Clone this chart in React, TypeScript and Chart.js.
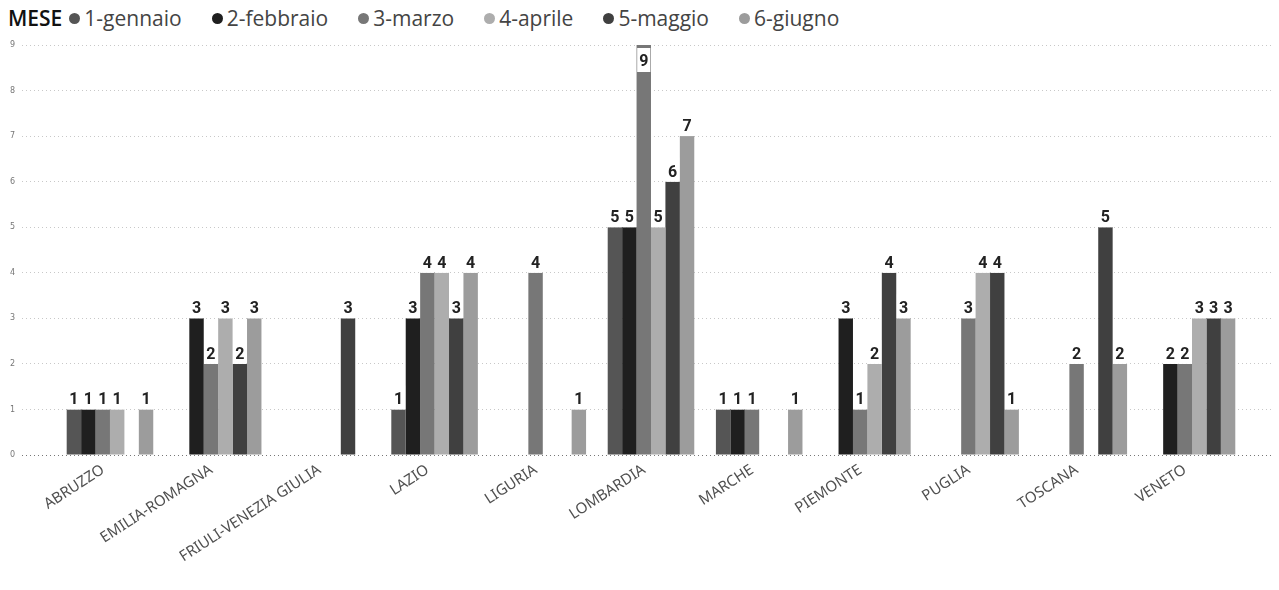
import React, { useEffect, useRef } from "react";
import { Chart, registerables } from "chart.js";

Chart.register(...registerables);

const CATEGORIES = [
  "ABRUZZO",
  "EMILIA-ROMAGNA",
  "FRIULI-VENEZIA GIULIA",
  "LAZIO",
  "LIGURIA",
  "LOMBARDIA",
  "MARCHE",
  "PIEMONTE",
  "PUGLIA",
  "TOSCANA",
  "VENETO",
];

const SERIES_NAMES = ["1-gennaio", "2-febbraio", "3-marzo", "4-aprile", "5-maggio", "6-giugno"];

const GENNAIO = [1, null, null, 1, null, 5, 1, null, null, null, null];
const FEBBRAIO = [1, 3, null, 3, null, 5, 1, 3, null, null, 2];
const MARZO = [1, 2, null, 4, 4, 9, 1, 1, 3, 2, 2];
const APRILE = [1, 3, null, 4, null, 5, null, 2, 4, null, 3];
const MAGGIO = [null, 2, 3, 3, null, 6, null, 4, 4, 5, 3];
const GIUGNO = [1, 3, null, 4, 1, 7, 1, 3, 1, 2, 3];

const Y_TICKS = [0, 1, 2, 3, 4, 5, 6, 7, 8, 9];

const SERIES_VALUES = [GENNAIO, FEBBRAIO, MARZO, APRILE, MAGGIO, GIUGNO];
const COLORS = ["#555555", "#1f1f1f", "#777777", "#adadad", "#404040", "#9c9c9c"];

const labelPlugin = {
  id: "barLabels",
  afterDatasetsDraw(chart: any) {
    const ctx = chart.ctx;
    const area = chart.chartArea;
    ctx.save();
    ctx.font = "bold 16px Roboto, 'DejaVu Sans Condensed', sans-serif";
    const items: any[] = [];
    chart.data.datasets.forEach((ds: any, di: number) => {
      const meta = chart.getDatasetMeta(di);
      meta.data.forEach((el: any, i: number) => {
        const raw = ds.data[i];
        const v = raw && raw.y;
        if (v === null || v === undefined) return;
        const text = String(v);
        const w = ctx.measureText(text).width;
        const boxW = w + 4;
        const boxH = 24;
        let boxTop = el.y - boxH;
        let baseline = el.y - 5;
        if (boxTop < area.top - 6) {
          boxTop = el.y + 3;
          baseline = el.y + 21;
        }
        items.push({ x: el.x, text, boxW, boxH, boxTop, baseline });
      });
    });
    ctx.fillStyle = "#ffffff";
    items.forEach((it) => {
      ctx.fillRect(it.x - it.boxW / 2, it.boxTop, it.boxW, it.boxH);
    });
    ctx.fillStyle = "#222222";
    ctx.textAlign = "center";
    ctx.textBaseline = "alphabetic";
    items.forEach((it) => {
      ctx.fillText(it.text, it.x, it.baseline);
    });
    ctx.restore();
  },
};

export default function App() {
  const canvasRef = useRef<HTMLCanvasElement | null>(null);

  useEffect(() => {
    if (!canvasRef.current) return;
    const datasets = SERIES_NAMES.map((name, si) => ({
      label: name,
      data: CATEGORIES.map((_, i) => ({ x: i, y: SERIES_VALUES[si][i] })),
      backgroundColor: COLORS[si],
      borderWidth: 0,
      categoryPercentage: 0.8,
      barPercentage: 1.0,
    }));
    const chart = new Chart(canvasRef.current, {
      type: "bar",
      data: { datasets },
      plugins: [labelPlugin],
      options: {
        animation: false,
        responsive: true,
        maintainAspectRatio: false,
        layout: { padding: { top: 17, right: 0, left: 0, bottom: 0 } },
        plugins: {
          legend: { display: false },
          tooltip: { enabled: false },
        },
        scales: {
          x: {
            type: "linear",
            offset: false,
            min: -0.813,
            max: 10.73,
            afterFit: (s: any) => {
              s.height = 127;
            },
            grid: { display: false, drawTicks: false, offset: false },
            border: { display: false },
            ticks: {
              stepSize: 1,
              maxTicksLimit: 30,
              includeBounds: false,
              autoSkip: false,
              minRotation: 33,
              maxRotation: 33,
              padding: 6,
              labelOffset: -7,
              color: "#505050",
              font: { family: "'Noto Sans', sans-serif", size: 15 },
              callback: (v: any) =>
                Number.isInteger(v) && v >= 0 && v < CATEGORIES.length ? CATEGORIES[v] : "",
            },
          },
          y: {
            min: Y_TICKS[0],
            max: Y_TICKS[Y_TICKS.length - 1],
            afterFit: (s: any) => {
              s.width = 14;
            },
            grid: {
              drawTicks: false,
              color: (c: any) => (c.tick && c.tick.value === 0 ? "#777777" : "#c8c8c8"),
              lineWidth: 1,
            },
            border: { display: false, dash: [1, 3] },
            ticks: {
              stepSize: 1,
              padding: 7,
              color: "#777777",
              font: { family: "'DejaVu Sans', sans-serif", size: 8 },
            },
          },
        },
      } as any,
    });
    return () => chart.destroy();
  }, []);

  return (
    <div style={{ fontFamily: "'Open Sans', sans-serif" }}>
      <div
        style={{
          display: "flex",
          alignItems: "center",
          height: 20,
          lineHeight: "20px",
          fontSize: 21,
          whiteSpace: "nowrap",
        }}
      >
        <span style={{ fontWeight: 600, color: "#111", marginRight: 7 }}>MESE</span>
        {SERIES_NAMES.map((n, i) => (
          <span key={n} style={{ display: "flex", alignItems: "center", marginRight: 30 }}>
            <span
              style={{
                display: "inline-block",
                width: 11,
                height: 11,
                borderRadius: "50%",
                background: COLORS[i],
                marginRight: 4,
              }}
            />
            <span style={{ color: "#444" }}>{n}</span>
          </span>
        ))}
      </div>
      <div style={{ position: "relative", width: "100%", height: 554 }}>
        <canvas ref={canvasRef} />
      </div>
    </div>
  );
}
